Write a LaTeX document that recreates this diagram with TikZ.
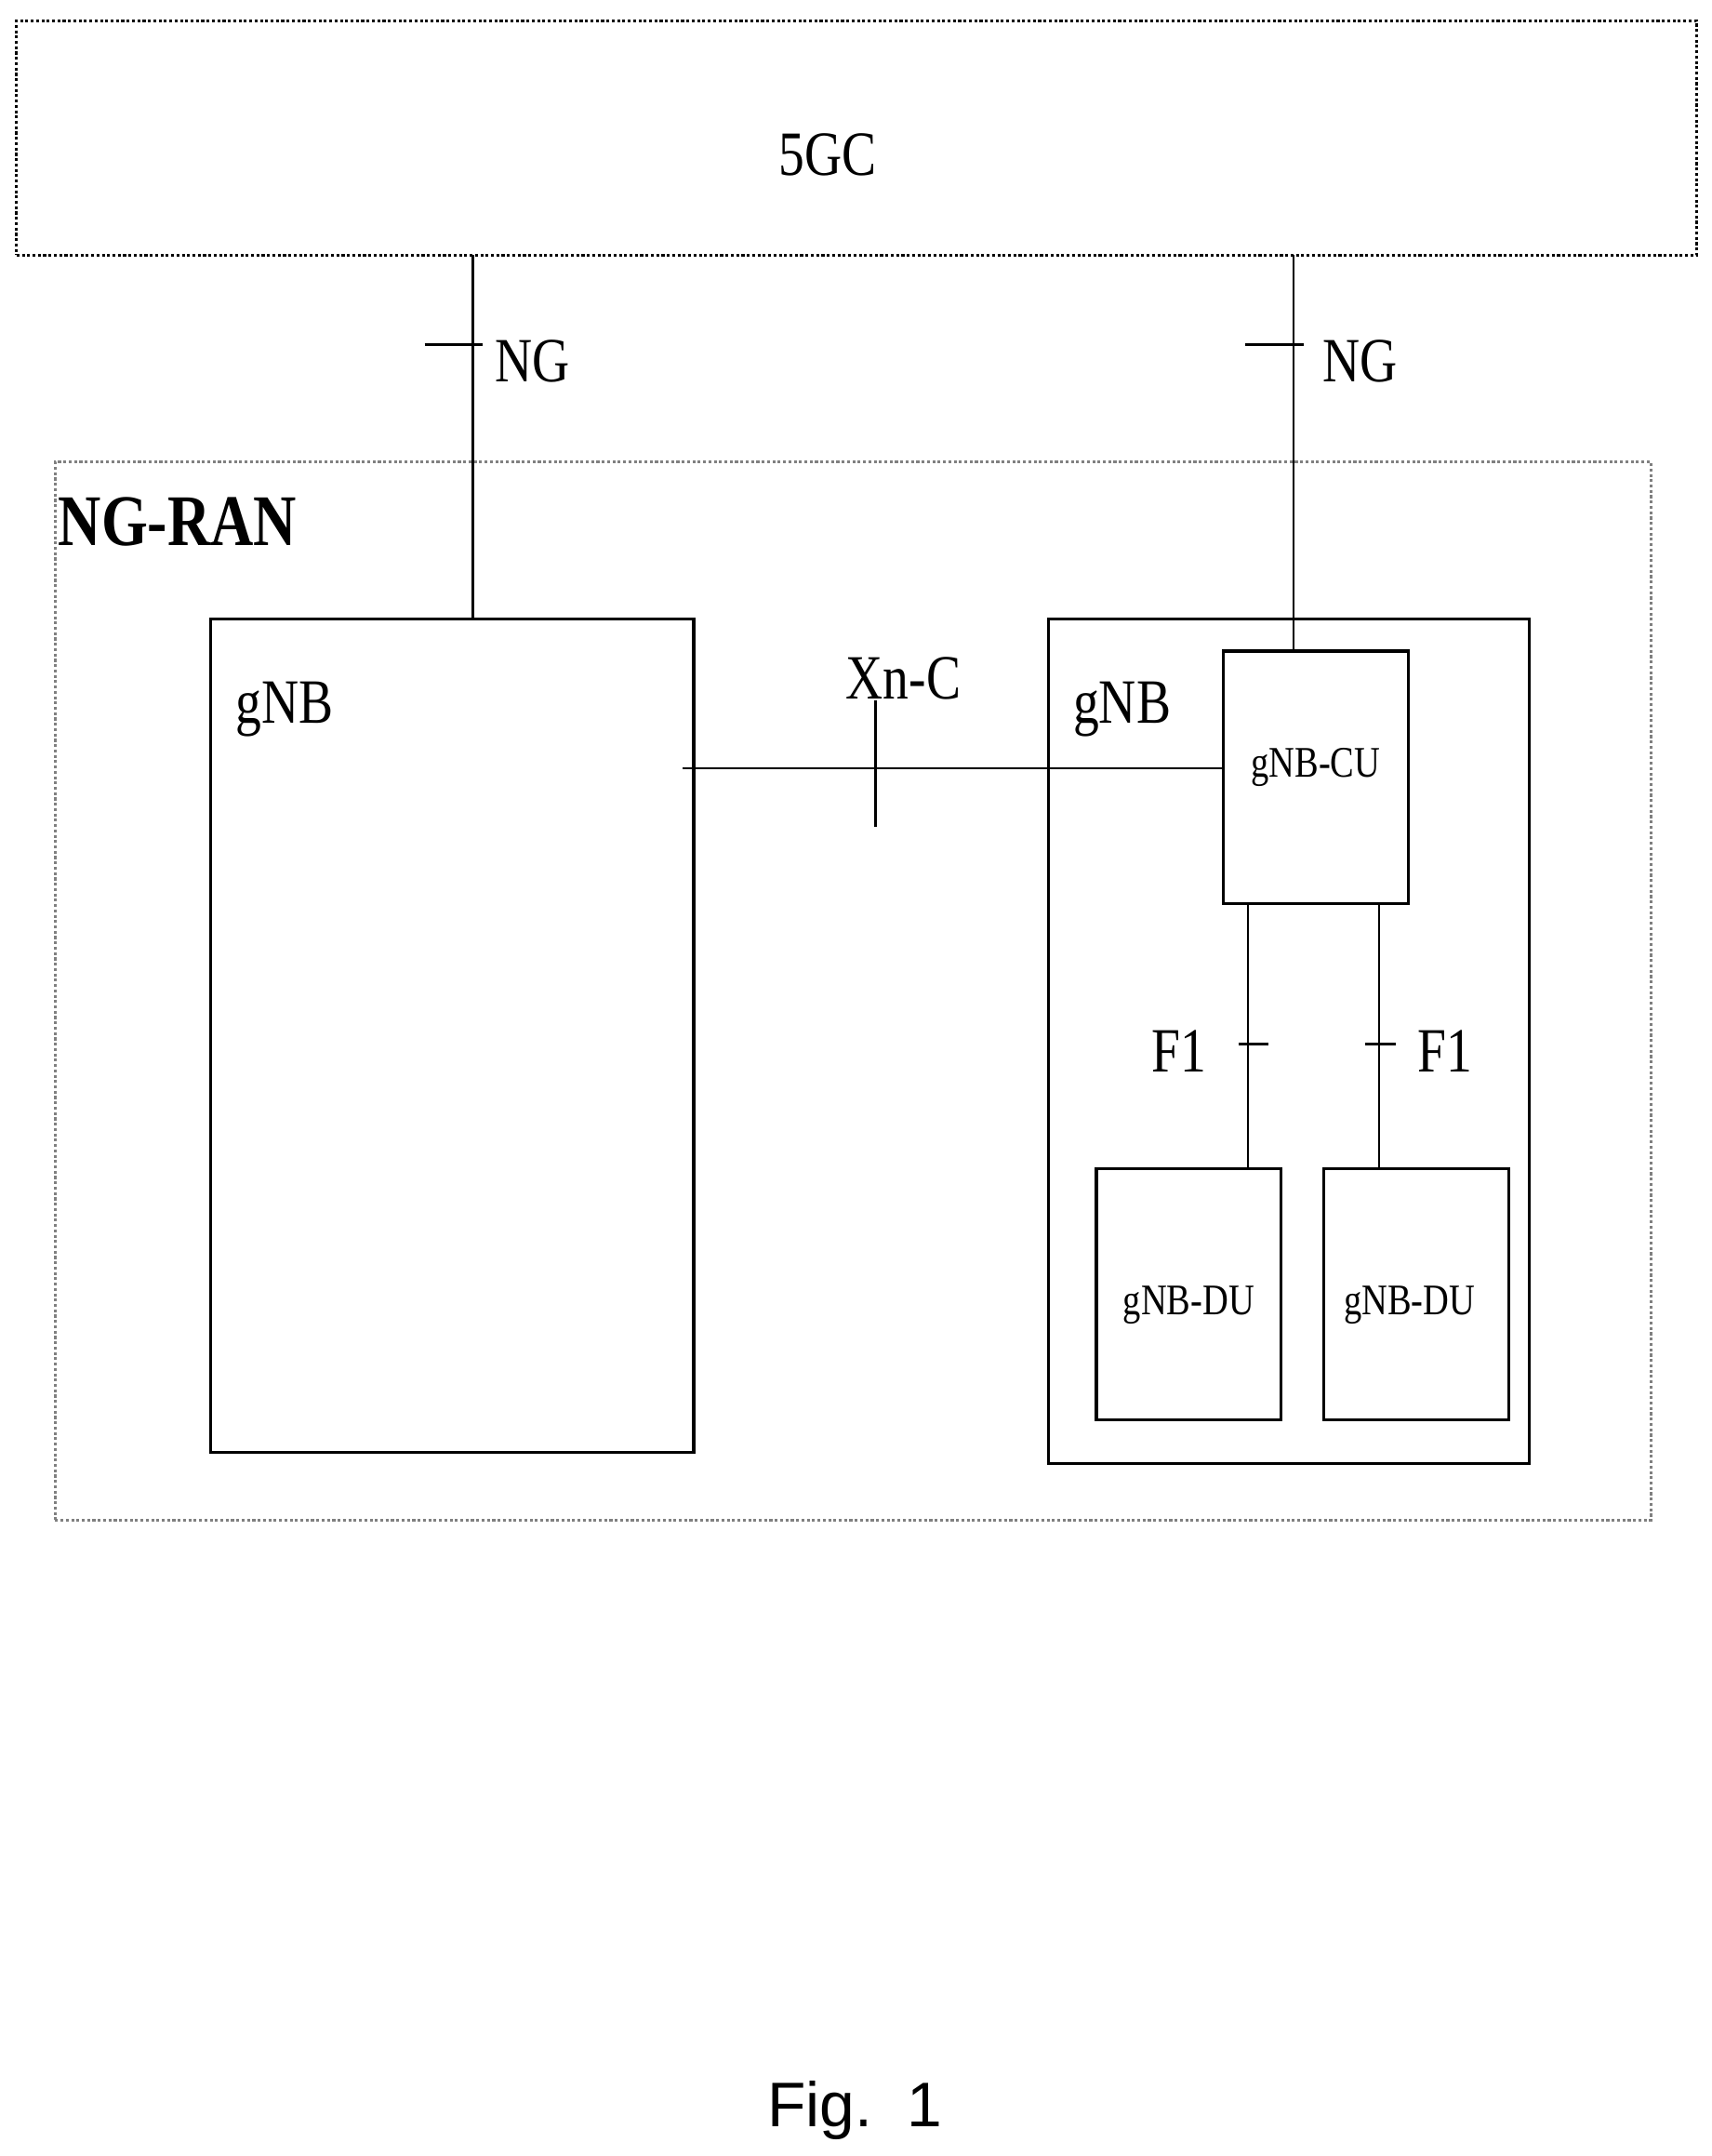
\documentclass[tikz,border=0pt]{standalone}
\usepackage{fontspec}
\setmainfont{Liberation Serif}[FakeStretch=0.82]
\newfontfamily\figfont{Liberation Sans}
\begin{document}
\begin{tikzpicture}[x=0.02cm,y=-0.02cm,
  box/.style={draw,line width=1.2pt,inner sep=0pt},
  lbl/.style={font=\fontsize{26}{28}\selectfont},
  small/.style={font=\fontsize{18}{20}\selectfont},
  ln/.style={line width=1pt}]
\useasboundingbox (0,0) rectangle (1241,1563);
\node[box,densely dotted,minimum width=1218*0.02cm,minimum height=170*0.02cm] (c) at (621,100) {};
\node[lbl] (ct) at (600,112) {5GC};
\node[box,densely dotted,draw=gray,minimum width=1157*0.02cm,minimum height=767*0.02cm] (ran) at (618.5,718.5) {};
\node[lbl,font=\bfseries\fontsize{30}{32}\selectfont,anchor=north west,inner sep=0pt] (rant) at (42,360) {NG-RAN};
\node[box,minimum width=350*0.02cm,minimum height=604*0.02cm] (g1) at (328,751) {};
\node[lbl,anchor=north west] (g1t) at (165,488) {gNB};
\node[box,minimum width=349*0.02cm,minimum height=612*0.02cm] (g2) at (934.5,755) {};
\node[lbl,anchor=north west] (g2t) at (772,488) {gNB};
\node[box,minimum width=134*0.02cm,minimum height=183*0.02cm] (cu) at (954,563.5) {};
\node[small] (cut) at (954,556) {gNB-CU};
\node[box,minimum width=134*0.02cm,minimum height=182*0.02cm] (du1) at (862,938) {};
\node[small] (du1t) at (862,946) {gNB-DU};
\node[box,minimum width=134*0.02cm,minimum height=182*0.02cm] (du2) at (1027,938) {};
\node[small] (du2t) at (1022,946) {gNB-DU};
\coordinate (a1) at (343,185); \coordinate (a2) at (938,185);
\draw[ln] (a1) -- (343,449);
\draw[ln] (a2) -- (938,472);
\coordinate (t1) at (343,250); \coordinate (t2) at (938,250);
\draw[ln] ([xshift=-20]t1) -- ([xshift=4]t1);
\draw[ln] ([xshift=-20]t2) -- ([xshift=4]t2);
\node[lbl] (ng1) at (386,262) {NG};
\node[lbl] (ng2) at (986,262) {NG};
\coordinate (x1) at (495,557);
\draw[ln] (x1) -- (887,557);
\coordinate (xt) at (635,557);
\draw[ln] ([yshift=-24]xt) -- ([yshift=28]xt);
\node[lbl] (xn) at (655,492) {Xn-C};
\draw[ln] (905,655) -- (905,847);
\draw[ln] (1000,655) -- (1000,847);
\draw[ln] (898,757) -- (920,757);
\draw[ln] (990,757) -- (1012,757);
\node[lbl] (f1) at (855,762) {F1};
\node[lbl] (f2) at (1048,762) {F1};
\node[font=\figfont\fontsize{26}{28}\selectfont] (fig) at (620,1530) {Fig.~~1};
\end{tikzpicture}
\end{document}
